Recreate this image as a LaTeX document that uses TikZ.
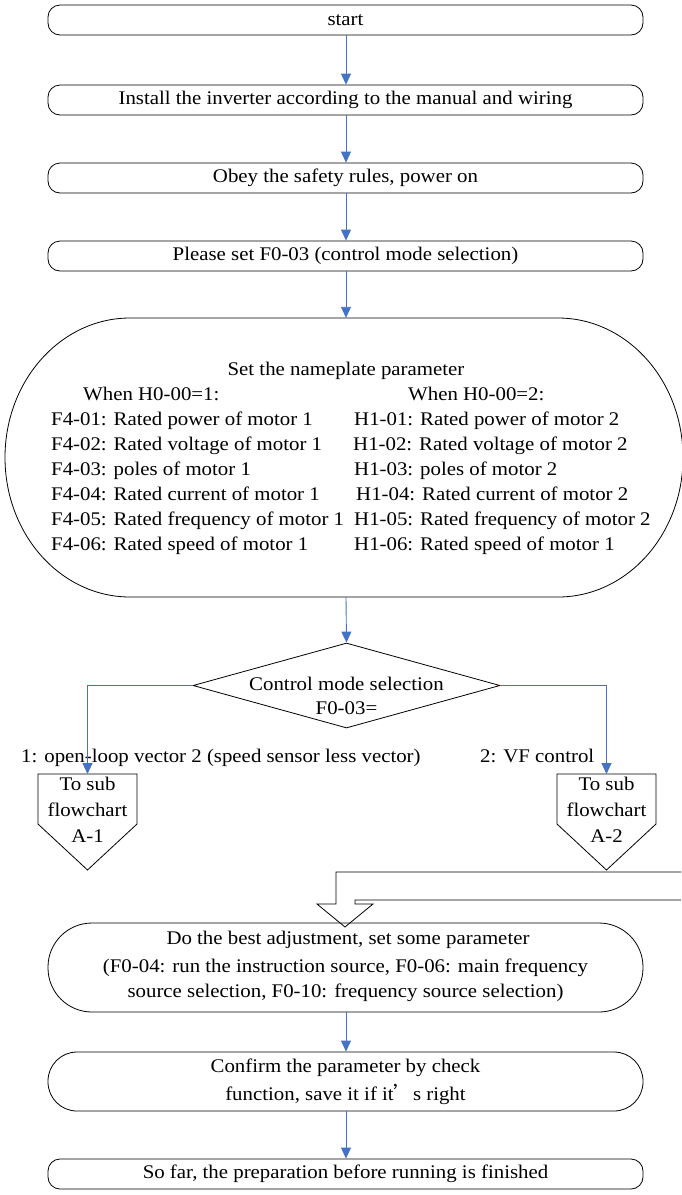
\documentclass[tikz,border=0pt]{standalone}
\usepackage{fontspec}
\setmainfont{Liberation Serif}[FakeStretch=1.08]
\newfontfamily\cjk{Noto Sans CJK SC}
\usetikzlibrary{arrows.meta,shapes.geometric}
\definecolor{arrowblue}{RGB}{68,114,196}
\begin{document}
\begin{tikzpicture}[x=1pt,y=-1pt,
  font=\fontsize{19.3}{25}\selectfont,
  box/.style={draw=black,line width=0.8pt,rounded corners=12pt,minimum width=595pt,minimum height=30pt,inner sep=0pt},
  txt/.style={inner sep=0pt,text height=13pt,text depth=4pt},
  flow/.style={draw=arrowblue,line width=0.9pt,-{Triangle[length=11pt,width=10pt]}},
  shape line/.style={draw=black,line width=0.8pt}]
\useasboundingbox (0,0) rectangle (681,1195);

% top boxes
\node[box] (start) at (345.5,20) {start};
\node[box] (install) at (345.5,100) {Install the inverter according to the manual and wiring};
\node[box] (obey) at (345.5,178) {Obey the safety rules, power on};
\node[box] (setmode) at (345.5,256) {Please set F0-03 (control mode selection)};

% big nameplate box
\node[minimum width=678pt,minimum height=279pt,inner sep=0pt] (big) at (344,457.5) {};
\draw[shape line] (130,318) -- (558,318) arc[start angle=-90,end angle=90,x radius=125,y radius=139.5]
  -- (130,597) arc[start angle=90,end angle=270,x radius=125,y radius=139.5] -- cycle;
\node[txt] (bt) at (346,371) {Set the nameplate parameter};
\node[txt,anchor=west] (w1) at (83,396) {When H0-00=1:};
\node[txt,anchor=west] (w2) at (408,396) {When H0-00=2:};
\node[txt,anchor=west] (l1) at (51,421) {F4-01: Rated power of motor 1};
\node[txt,anchor=west] (l2) at (51,446) {F4-02: Rated voltage of motor 1};
\node[txt,anchor=west] (l3) at (51,471) {F4-03: poles of motor 1};
\node[txt,anchor=west] (l4) at (51,496) {F4-04: Rated current of motor 1};
\node[txt,anchor=west] (l5) at (51,521) {F4-05: Rated frequency of motor 1};
\node[txt,anchor=west] (l6) at (51,546) {F4-06: Rated speed of motor 1};
\node[txt,anchor=west] (r1) at (354,421) {H1-01: Rated power of motor 2};
\node[txt,anchor=west] (r2) at (353,446) {H1-02: Rated voltage of motor 2};
\node[txt,anchor=west] (r3) at (354,471) {H1-03: poles of motor 2};
\node[txt,anchor=west] (r4) at (356,496) {H1-04: Rated current of motor 2};
\node[txt,anchor=west] (r5) at (354,521) {H1-05: Rated frequency of motor 2};
\node[txt,anchor=west] (r6) at (354,546) {H1-06: Rated speed of motor 1};

% decision
\node[shape line,diamond,minimum width=307pt,minimum height=85pt,inner sep=0pt] (dec) at (346.5,685.5) {};
\node[txt] (d1) at (346.5,686) {Control mode selection};
\node[txt] (d2) at (346.5,710) {F0-03=};

% branch labels
\node[txt,anchor=west] (lab1) at (21,758) {1: open-loop vector 2 (speed sensor less vector)};
\node[txt,anchor=west] (lab2) at (480,758) {2: VF control};

% off-page connectors
\coordinate (a1) at (87.5,774);
\coordinate (a2) at (606.5,774);
\draw[shape line] (38,774) -- (137,774) -- (137,824) -- (87.5,870) -- (38,824) -- cycle;
\draw[shape line] (557,774) -- (656,774) -- (656,824) -- (606.5,870) -- (557,824) -- cycle;
\node[txt] (a1t1) at (87.5,786) {To sub};
\node[txt] (a1t2) at (87.5,812) {flowchart};
\node[txt] (a1t3) at (87.5,838) {A-1};
\node[txt] (a2t1) at (606.5,786) {To sub};
\node[txt] (a2t2) at (606.5,812) {flowchart};
\node[txt] (a2t3) at (606.5,838) {A-2};

% block arrow from the right
\draw[shape line] (681,872) -- (336,872) -- (336,904) -- (317,904) -- (345,927) -- (373,904) -- (355,904) -- (355,900) -- (681,900);

% lower boxes
\node[box,rounded corners=44pt,minimum height=89pt] (best) at (345.5,967.5) {};
\node[txt] (b1) at (348,940) {Do the best adjustment, set some parameter};
\node[txt] (b2) at (345.5,968) {(F0-04: run the instruction source, F0-06: main frequency};
\node[txt] (b3) at (345.5,993) {source selection, F0-10: frequency source selection)};

\node[box,rounded corners=29pt,minimum height=59pt] (confirm) at (345.5,1081.5) {};
\node[txt] (c1) at (345.5,1068) {Confirm the parameter by check};
\node[txt] (c2) at (345.5,1096) {function, save it if it{\cjk ’}s right};

\node[box] (finish) at (345.5,1174) {So far, the preparation before running is finished};

% connectors
\draw[flow] (start.south -| 346,0) -- (install.north -| 346,0);
\draw[flow] (install.south -| 346,0) -- (obey.north -| 346,0);
\draw[flow] (obey.south -| 346,0) -- (setmode.north -| 346,0);
\draw[flow] (setmode.south -| 346,0) -- (big.north -| 346,0);
\draw[flow] (big.south -| 346,0) -- (dec.north);
\draw[flow] (dec.west) -| (a1);
\draw[flow] (dec.east) -| (a2);
\draw[flow] (best.south -| 346,0) -- (confirm.north -| 346,0);
\draw[flow] (confirm.south -| 346,0) -- (finish.north -| 346,0);
\end{tikzpicture}
\end{document}
